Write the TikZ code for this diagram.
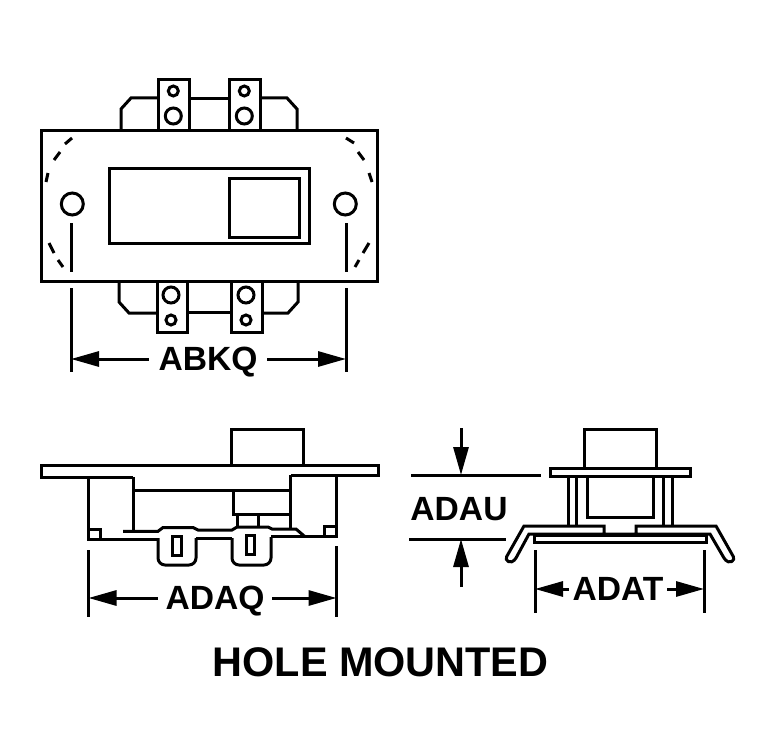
\documentclass[tikz,border=0pt]{standalone}
\usepackage{fontspec}
\setmainfont{Liberation Sans}
\usetikzlibrary{arrows.meta}
\tikzset{
  part/.style={line width=3pt,line join=miter,black},
  dashpart/.style={line width=3pt,black},
  dimline/.style={line width=3pt,black},
  dimarrow/.style={line width=3pt,black,-{Triangle[length=28pt,width=15pt]}},
  dimlabel/.style={font=\fontsize{33.6}{34}\selectfont\bfseries,text height=23pt,text depth=0pt,inner ysep=0pt,outer sep=0pt},
  titlelabel/.style={font=\fontsize{41.4}{42}\selectfont\bfseries,inner sep=0pt,text height=30pt,text depth=0pt}
}
\begin{document}
\begin{tikzpicture}[x=1pt,y=-1pt]
\useasboundingbox (0,0) rectangle (764,752);
\fill[white] (0,0) rectangle (764,752);
% ---- top view ----
\draw[part] (41,131) rectangle (377,281);
\draw[part] (109,168) rectangle (309,243);
\draw[part] (229,178) rectangle (299,237);
\draw[part] (72.3,204) circle (11);
\draw[part] (345.3,204) circle (11);
% top terminals
\draw[part] (158,131) -- (158,80) -- (189,80) -- (189,131);
\draw[part] (229,131) -- (229,80) -- (260,80) -- (260,131);
\draw[part] (173.3,91) circle (5);
\draw[part] (173.3,116) circle (8);
\draw[part] (244.3,91) circle (5);
\draw[part] (244.3,116) circle (8);
\draw[part] (121,131) -- (121,109) -- (131,98) -- (158,98);
\draw[part] (189,99) -- (229,99);
\draw[part] (260,98) -- (287,98) -- (297,109) -- (297,131);
% bottom terminals
\draw[part] (157,281) -- (157,332) -- (187,332) -- (187,281);
\draw[part] (231,281) -- (231,332) -- (262,332) -- (262,281);
\draw[part] (171,295) circle (8);
\draw[part] (171,320) circle (5);
\draw[part] (246,295) circle (8);
\draw[part] (246,320) circle (5);
\draw[part] (119,281) -- (119,302) -- (129,313) -- (157,313);
\draw[part] (187,312) -- (231,312);
\draw[part] (262,313) -- (288,313) -- (298,302) -- (298,281);
% dashes
\draw[dashpart] (72,138) -- (65,144) (60,152) -- (54,160) (48,173) -- (46,182);
\draw[dashpart] (346,138) -- (354,143) (358,152) -- (364,160) (369,173) -- (372,182);
\draw[dashpart] (49,243) -- (54,253) (58,260) -- (63,267);
\draw[dashpart] (369,243) -- (363,253) (359,260) -- (355,267);
% ABKQ dimension
\coordinate (abkqLa) at (71.3,223); \coordinate (abkqLb) at (71.3,272);
\coordinate (abkqLc) at (71.3,288); \coordinate (abkqLd) at (71.3,372);
\coordinate (abkqRa) at (346,223); \coordinate (abkqRb) at (346,272);
\coordinate (abkqRc) at (346,288); \coordinate (abkqRd) at (346,372);
\draw[dimline] (abkqLa) -- (abkqLb) (abkqLc) -- (abkqLd) (abkqRa) -- (abkqRb) (abkqRc) -- (abkqRd);
\node[dimlabel,inner xsep=10pt] (abkq) at (208,359) {ABKQ};
\coordinate (abkqTL) at (71,359); \coordinate (abkqTR) at (346,359);
\draw[dimarrow] (abkq.west) -- (abkqTL);
\draw[dimarrow] (abkq.east) -- (abkqTR);
% ---- side view ----
\draw[part] (231,465) -- (231,429) -- (303,429) -- (303,465);
% plate: open underside between the two blocks
\draw[part] (133.3,477) -- (41.5,477) -- (41.5,465) -- (378.5,465) -- (378.5,475) -- (290.5,475);
\draw[part] (88.7,477) -- (88.7,539.3) -- (158,539.3);
\draw[part] (133.3,477) -- (133.3,531.3);
\draw[part] (123,531.3) -- (158,531.3) -- (163,527.5) -- (193,527.5) -- (198,530) -- (232,530) -- (237,527) -- (268,527) -- (272,529) -- (296,529) -- (305,536.7);
\draw[part] (133.3,490) -- (290.5,490);
\draw[part] (290.5,475) -- (290.5,529);
\draw[part] (336.7,475) -- (336.7,538);
\draw[part] (271,536.7) -- (336.7,536.7);
\draw[part] (88.7,529) -- (100.7,529) -- (100.7,539.3);
\draw[part] (336.7,526) -- (324.3,526) -- (324.3,536.7);
\draw[part,rounded corners=7pt] (158,538) -- (158,565) -- (196,565) -- (196,538);
\draw[part] (196,538) -- (232,538);
\draw[part,rounded corners=7pt] (232,538) -- (232,565) -- (271,565) -- (271,537);
\draw[part] (172,536) rectangle (181,555);
\draw[part] (246,535) rectangle (254,554);
\draw[part] (233,490) -- (233,514) -- (290.5,514);
\draw[part] (237,514) -- (237,527);
\draw[part] (258,514) -- (258,527);
% ADAQ dimension
\coordinate (adaqLa) at (88.7,550); \coordinate (adaqLb) at (88.7,617);
\coordinate (adaqRa) at (336.7,546); \coordinate (adaqRb) at (336.7,617);
\draw[dimline] (adaqLa) -- (adaqLb) (adaqRa) -- (adaqRb);
\node[dimlabel,inner xsep=8pt] (adaq) at (215,598) {ADAQ};
\coordinate (adaqTL) at (88.5,598); \coordinate (adaqTR) at (336.5,598);
\draw[dimarrow] (adaq.west) -- (adaqTL);
\draw[dimarrow] (adaq.east) -- (adaqTR);
% ---- end view ----
\draw[part] (584,468) -- (584,429) -- (656,429) -- (656,468);
\draw[part] (550,468) rectangle (690,476);
\draw[part] (568,476) -- (568,526) (576,476) -- (576,526);
\draw[part] (663,476) -- (663,526) (672,476) -- (672,526);
\draw[part] (587,476) -- (587,517) -- (653,517) -- (653,476);
\draw[part] (604,534) -- (604,526) -- (524,526) -- (507,556) [rounded corners=3.5pt] -- (505,560) -- (512,563) [sharp corners] -- (516,558) -- (529,534) -- (636,534) -- (636,526) -- (716,526) -- (733,556) [rounded corners=3.5pt] -- (735,560) -- (728,563) [sharp corners] -- (724,558) -- (710,534) -- (636,534);
\draw[part] (534,535) rectangle (706,542);
% ADAU dimension
\coordinate (adauAa) at (411,475); \coordinate (adauAb) at (541,475);
\coordinate (adauBa) at (409,539); \coordinate (adauBb) at (506,539);
\draw[dimline] (adauAa) -- (adauAb) (adauBa) -- (adauBb);
\node[dimlabel,inner xsep=0pt] (adau) at (459,509) {ADAU};
\coordinate (adauTopS) at (461,428); \coordinate (adauTopT) at (461,475);
\coordinate (adauBotS) at (461,587); \coordinate (adauBotT) at (461,539);
\draw[dimarrow] (adauTopS) -- (adauTopT);
\draw[dimarrow] (adauBotS) -- (adauBotT);
% ADAT dimension
\coordinate (adatLa) at (535,550); \coordinate (adatLb) at (535,613);
\coordinate (adatRa) at (704,550); \coordinate (adatRb) at (704,613);
\draw[dimline] (adatLa) -- (adatLb) (adatRa) -- (adatRb);
\node[dimlabel,inner xsep=4pt] (adat) at (618,589) {ADAT};
\coordinate (adatTL) at (535,589); \coordinate (adatTR) at (704,589);
\draw[dimarrow] (adat.west) -- (adatTL);
\draw[dimarrow] (adat.east) -- (adatTR);
% title
\node[titlelabel] (title) at (380.5,661) {HOLE MOUNTED};
\end{tikzpicture}
\end{document}
